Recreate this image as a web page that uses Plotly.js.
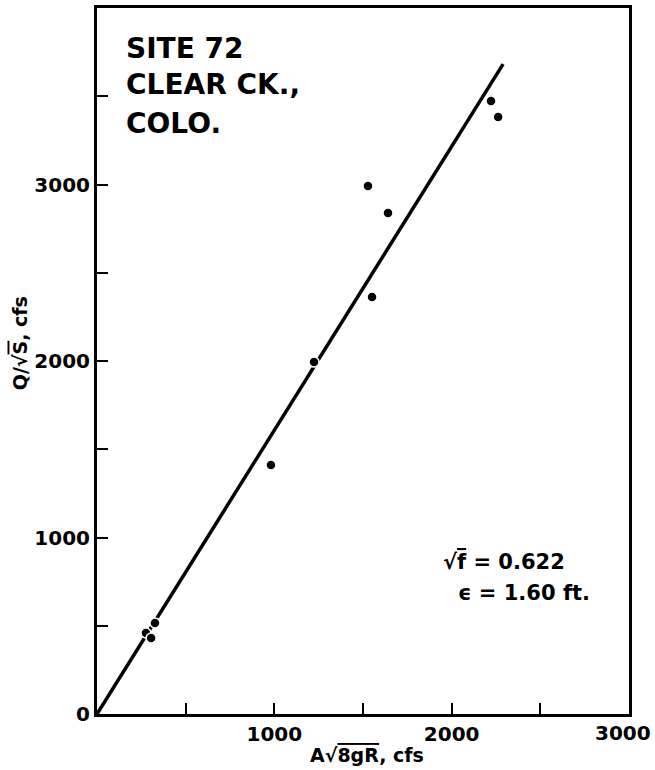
<!DOCTYPE html>
<html>
<head>
<meta charset="utf-8">
<script src="https://cdn.plot.ly/plotly-3.0.1.min.js"></script>
<style>html,body{margin:0;padding:0;background:#fff;}#chart{width:655px;height:770px;}</style>
</head>
<body>
<div id="chart"></div>
<script>
// Observed points: A*sqrt(8gR) (cfs) vs Q/sqrt(S) (cfs)
const obsX = [276, 305, 327, 981, 1224, 1528, 1551, 1641, 2222, 2262];
const obsY = [459, 430, 516, 1411, 1994, 2992, 2363, 2839, 3473, 3383];
// Fitted line end points
const fitX = [0, 2290];
const fitY = [0, 3682];
// Tick marks and labels
const xTickVals = [500, 1000, 1500, 2000, 2500, 3000];
const xTickText = ["", "1000", "", "2000", "", ""];
const xEdgeLabel = {value: 3000, text: "3000"};
const yTickVals = [0, 500, 1000, 1500, 2000, 2500, 3000, 3500];
const yTickText = ["0", "", "1000", "", "2000", "", "3000", ""];
const siteLines = ["SITE 72", "CLEAR CK.,", "COLO."];
const sqrtF = "0.622";
const epsilon = "1.60 ft.";

const FONT = "DejaVu Sans";
const traces = [
  {x: fitX, y: fitY, mode: "lines", line: {color: "#000", width: 3.5}, hoverinfo: "skip"},
  {x: obsX, y: obsY, mode: "markers",
   marker: {color: "#000", size: 10, line: {color: "#fff", width: 1.5}}}
];

const siteY = [0.943, 0.891, 0.837];
const siteAnn = siteLines.map((t, i) => ({
  xref: "paper", yref: "paper", x: 0.051, y: siteY[i], xanchor: "left", yanchor: "middle",
  text: "<b>" + t + "</b>", showarrow: false, font: {family: FONT, size: 28, color: "#000"}
}));

const layout = {
  width: 655, height: 770,
  margin: {l: 97, r: 26, t: 8, b: 56},
  paper_bgcolor: "#fff", plot_bgcolor: "#fff",
  showlegend: false,
  font: {family: FONT, color: "#000"},
  xaxis: {
    range: [0, 3000], showgrid: false, zeroline: false,
    showline: true, linecolor: "#000", linewidth: 3, mirror: true,
    tickmode: "array", tickvals: xTickVals, ticktext: xTickText,
    ticks: "inside", ticklen: 11, tickwidth: 2, tickcolor: "#000",
    tickfont: {family: FONT, size: 20, color: "#000", weight: "bold"},
    title: {text: ""}
  },
  yaxis: {
    range: [0, 4000], showgrid: false, zeroline: false,
    showline: true, linecolor: "#000", linewidth: 3, mirror: true,
    tickmode: "array", tickvals: yTickVals, ticktext: yTickText,
    ticks: "inside", ticklen: 11, tickwidth: 2, tickcolor: "#000",
    tickfont: {family: FONT, size: 20, color: "#000", weight: "bold"},
    title: {text: ""}
  },
  annotations: siteAnn.concat([
    {xref: "x", yref: "paper", x: xEdgeLabel.value, y: 0, xanchor: "center", yanchor: "top",
     xshift: -6, yshift: -5,
     text: "<b>" + xEdgeLabel.text + "</b>", showarrow: false,
     font: {family: FONT, size: 20, color: "#000"}},
    {xref: "paper", yref: "paper", x: 0.647, y: 0.215, xanchor: "left", yanchor: "middle",
     text: "<b>√<span style='text-decoration:overline'>f</span> = " + sqrtF + "</b>",
     showarrow: false, align: "left", font: {family: FONT, size: 21, color: "#000"}},
    {xref: "paper", yref: "paper", x: 0.675, y: 0.171, xanchor: "left", yanchor: "middle",
     text: "<b>ϵ = " + epsilon + "</b>",
     showarrow: false, align: "left", font: {family: FONT, size: 21, color: "#000"}},
    {xref: "paper", yref: "paper", x: 0.508, y: -0.058, xanchor: "center", yanchor: "middle",
     text: "<b>A√<span style='text-decoration:overline'>8gR</span>, cfs</b>",
     showarrow: false, font: {family: FONT, size: 19, color: "#000"}},
    {xref: "paper", yref: "paper", x: -0.145, y: 0.525, xanchor: "center", yanchor: "middle",
     textangle: -90,
     text: "<b>Q/√<span style='text-decoration:overline'>S</span>, cfs</b>",
     showarrow: false, font: {family: FONT, size: 19, color: "#000"}}
  ])
};

Plotly.newPlot("chart", traces, layout, {displayModeBar: false, staticPlot: true});
</script>
</body>
</html>
